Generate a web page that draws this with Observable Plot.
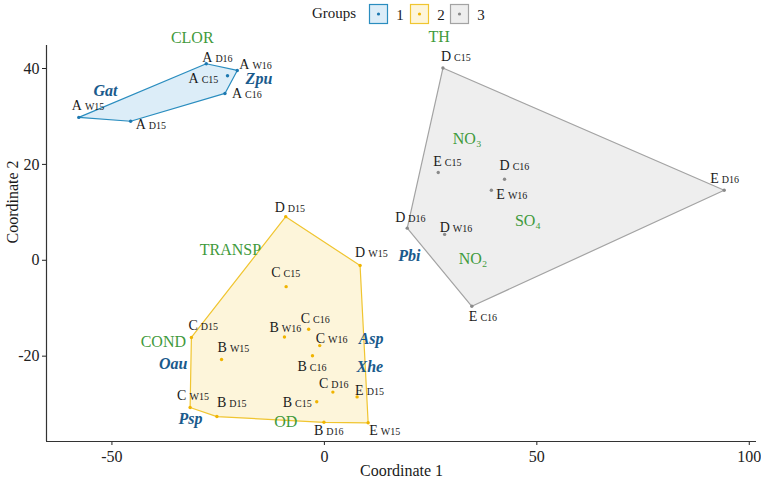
<!DOCTYPE html>
<html><head><meta charset="utf-8">
<script src="https://cdn.jsdelivr.net/npm/d3@7"></script>
<script src="https://cdn.jsdelivr.net/npm/@observablehq/plot@0.6"></script>
<style>
body{margin:0;background:#fff;font-family:"Liberation Serif","DejaVu Serif","Times New Roman",serif;}
svg, svg text{font-family:"Liberation Serif","DejaVu Serif","Times New Roman",serif !important;}
#legend{display:block;}
</style></head><body>
<div id="wrap"></div>
<script>
// ---- data ----
const letters = ["A","A","A","A","A","A",
  "D","D","C","C","B","C","C","B","B","C","E","B","C","B","B","E",
  "D","E","E","D","E","D","E","D"];
const subs = ["D16","W16","C15","C16","D15","W15",
  "D15","W15","C15","D15","W16","C16","W16","C16","W15","D16","D15","C15","W15","D15","D16","W15",
  "C15","D16","C16","D16","C15","C16","W16","W16"];
const groupOf = [1,1,1,1,1,1, 2,2,2,2,2,2,2,2,2,2,2,2,2,2,2,2, 3,3,3,3,3,3,3,3];
const coord1 = [-27.8,-20.5,-22.8,-23.4,-45.6,-57.8,
  -9.1,8.4,-9.0,-31.3,-9.4,-3.7,-1.1,-2.8,-24.2,2.0,7.7,-1.8,-31.6,-25.3,-0.1,10.3,
  27.9,94.1,34.7,19.5,26.8,42.4,39.3,28.3];
const coord2 = [41.0,39.6,38.5,34.8,29.0,29.8,
  9.1,-1.1,-5.5,-16.1,-16.0,-14.4,-17.8,-19.9,-20.7,-27.5,-28.5,-29.5,-30.7,-32.6,-33.8,-33.9,
  40.1,14.6,-9.6,6.7,18.3,16.9,14.6,5.4];
// label nudges in px (left edge dx, centre dy) – layout only
const labelNudge = [[-4,-6.6],[2,-6],[-39,3.3],[7,0.3],[5,3.6],[-7,-11.7],
  [-11,-8.7],[-5,-13.3],[-15,-14.3],[-3,-11.7],[-15,-9.3],[-8,-11],[-4,-7],[-15,10.7],[-4,-11.7],[-14,-8.4],[-2,-6.7],[-34,0.4],[-13,-12],[0,-14.3],[-10,8.3],[1,7.7],
  [-2,-11.3],[-14,-11.7],[-3,10.7],[-12,-11],[-5,-11],[-5,-14],[5,4],[-5,-7]];

const envNames = ["CLOR","TH","NO₃","SO₄","NO₂","TRANSP","COND","OD"];
const envX = [-31.1,27.0,33.6,47.9,35.0,-22.1,-37.9,-9.1];
const envY = [46.3,46.7,25.3,8.3,0.3,2.2,-17.1,-33.8];

const spNames = ["Gat","Zpu","Pbi","Asp","Xhe","Oau","Psp"];
const spX = [-51.5,-15.4,20.0,11.0,10.7,-35.6,-31.5];
const spY = [35.4,37.9,1.0,-16.4,-22.3,-21.6,-33.1];

const groupNames = ["1","2","3"];
const xTicks = [-50,0,50,100];
const yTicks = [-20,0,20,40];

// ---- styles ----
const groupStroke = {1:"#2a8dbf",2:"#f0c530",3:"#a3a3a3"};
const groupFill = {1:"#dcedf8",2:"#fdf5da",3:"#eeeeee"};
const groupDot = {1:"#1d78b0",2:"#f0b400",3:"#8a8a8a"};
const green = "#3f9a3c", spBlue = "#1a5a8c";
const FONT = '"Liberation Serif","DejaVu Serif","Times New Roman",serif';

const pts = letters.map((l,i)=>({letter:l, sub:subs[i], g:groupOf[i], x:coord1[i], y:coord2[i], nd:labelNudge[i]}));
const env = envNames.map((n,i)=>({name:n, x:envX[i], y:envY[i]}));
const sp = spNames.map((n,i)=>({name:n, x:spX[i], y:spY[i]}));

const xDom = [-65.4, 101.7], yDom = [-37.8, 44.8];

// ---- legend ----
const wrap = document.getElementById("wrap");
const lg = d3.create("svg").attr("id","legend").attr("width",761).attr("height",28)
  .style("font-family",FONT);
lg.append("text").attr("x",312).attr("y",18).attr("font-size",15).attr("fill","#1a1a1a").text("Groups");
const boxX = [369,410,450];
groupNames.forEach((gname,i)=>{
  const g = i+1;
  lg.append("rect").attr("x",boxX[i]+0.5).attr("y",4.5).attr("width",18).attr("height",19)
    .attr("fill",groupFill[g]).attr("stroke",groupStroke[g]).attr("stroke-width",1.2);
  lg.append("circle").attr("cx",boxX[i]+9.5).attr("cy",14).attr("r",1.6).attr("fill",groupDot[g]);
  lg.append("text").attr("x",boxX[i]+31).attr("y",19.5).attr("font-size",15).attr("text-anchor","middle")
    .attr("fill","#1a1a1a").text(gname);
});
wrap.appendChild(lg.node());

// ---- chart ----
const chart = Plot.plot({
  width:761, height:462,
  marginTop:17, marginBottom:49, marginLeft:46, marginRight:5,
  style:{fontFamily:FONT, fontSize:"16px", color:"#222", background:"#fff"},
  x:{domain:xDom, ticks:xTicks, tickSize:4, tickPadding:5, label:null, tickFormat:d=>d<0?"-"+Math.abs(d):String(d)},
  y:{domain:yDom, ticks:yTicks, tickSize:4, tickPadding:3, label:null, tickFormat:d=>d<0?"-"+Math.abs(d):String(d)},
  marks:[
    ...[1,2,3].map(g=>Plot.hull(pts.filter(d=>d.g===g),{x:"x",y:"y",fill:groupFill[g],stroke:groupStroke[g],strokeWidth:1.2})),
    Plot.ruleX([xDom[0]],{stroke:"#333",strokeWidth:1.2}),
    Plot.ruleY([yDom[0]],{stroke:"#333",strokeWidth:1.2}),
    Plot.dot(pts,{x:"x",y:"y",r:1.7,fill:d=>groupDot[d.g],stroke:"none"}),
    Plot.text(pts,{x:"x",y:"y",text:"letter",textAnchor:"start",fontSize:14,fontFamily:FONT,fill:"#1a1a1a"}),
    Plot.text(env,{x:"x",y:"y",text:"name",fontSize:16,fontFamily:FONT,fill:green}),
    Plot.text(sp,{x:"x",y:"y",text:"name",fontSize:16,fontFamily:FONT,fill:spBlue,fontWeight:"bold",fontStyle:"italic"}),
    Plot.text(["Coordinate 1"],{frameAnchor:"bottom",dy:34,fontSize:16,fontFamily:FONT,fill:"#1a1a1a"}),
    Plot.text(["Coordinate 2"],{frameAnchor:"left",dx:-34,rotate:-90,fontSize:16,fontFamily:FONT,fill:"#1a1a1a"})
  ]
});
// compose letter + small subscript within each point label (first text mark)
const textGroups = chart.querySelectorAll('g[aria-label="text"]');
const labelEls = textGroups[0].querySelectorAll("text");
labelEls.forEach((t,i)=>{
  const d = pts[i];
  t.textContent = "";
  const t1 = document.createElementNS("http://www.w3.org/2000/svg","tspan");
  t1.setAttribute("dx", d.nd[0]); t1.setAttribute("dy", d.nd[1]);
  t1.textContent = d.letter;
  const t2 = document.createElementNS("http://www.w3.org/2000/svg","tspan");
  t2.setAttribute("dx", 3); t2.setAttribute("font-size", 10);
  t2.textContent = d.sub;
  t.appendChild(t1); t.appendChild(t2);
});
wrap.appendChild(chart);
</script>
</body></html>
